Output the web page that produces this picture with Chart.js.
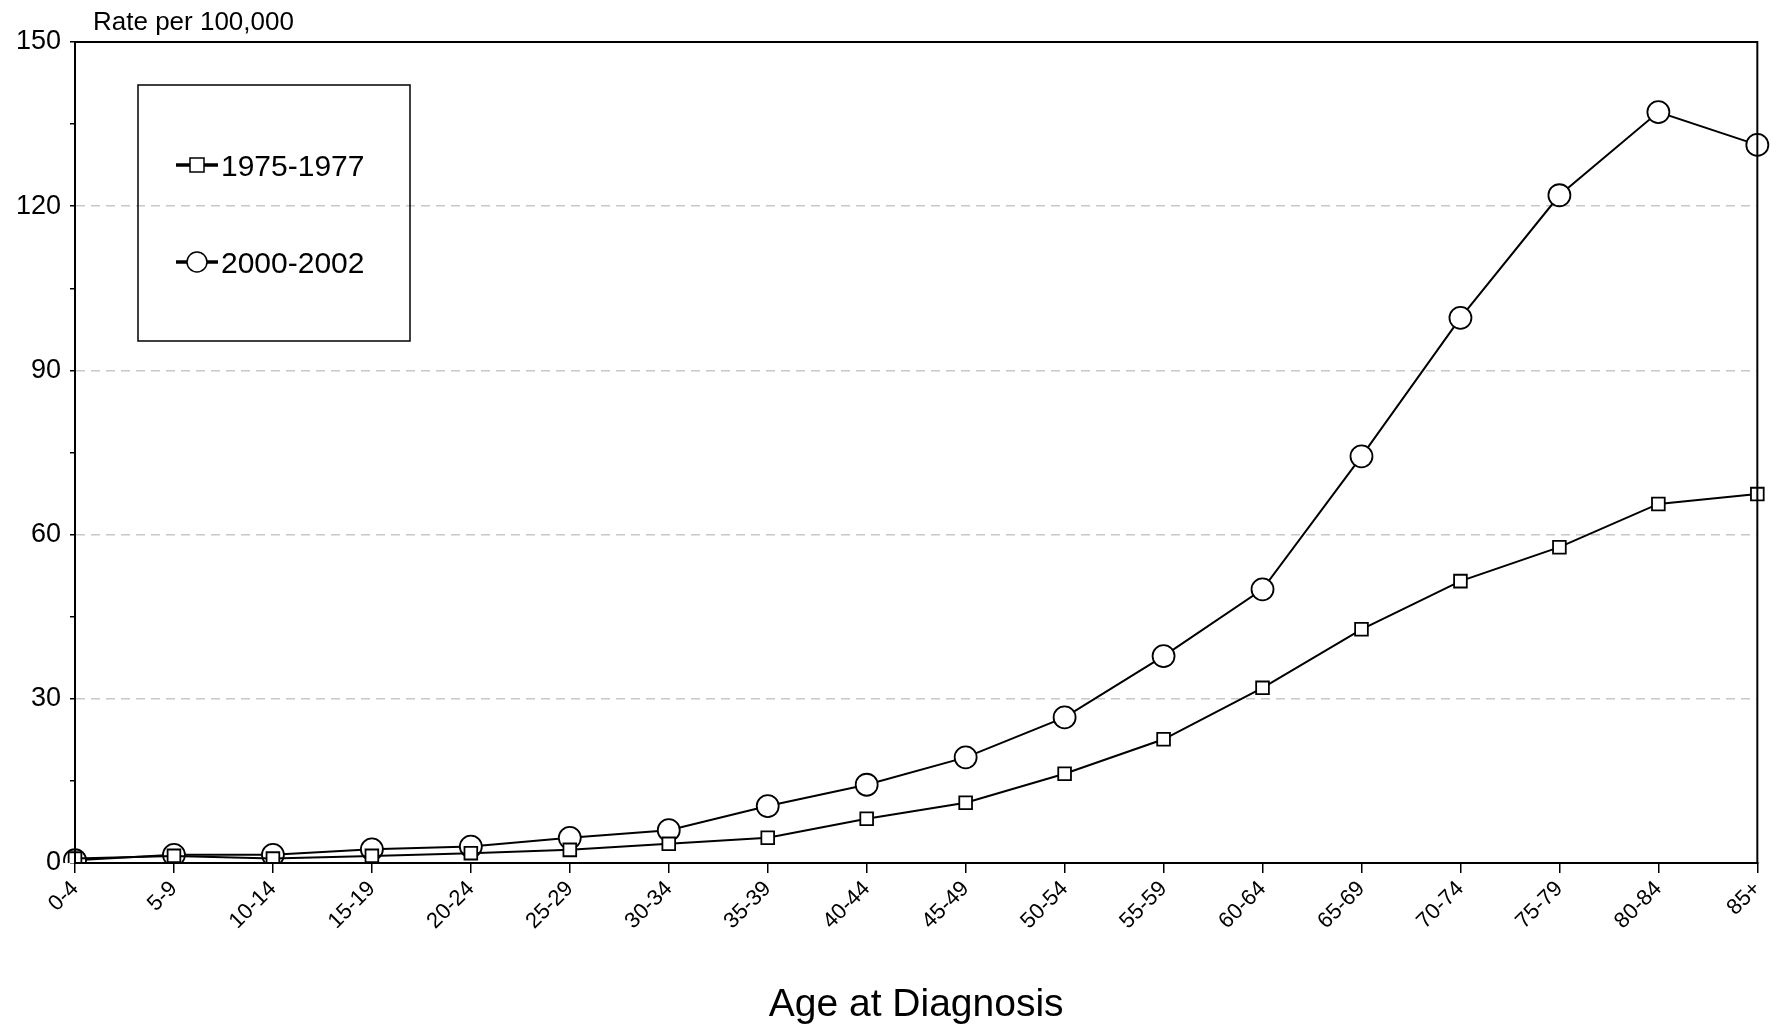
<!DOCTYPE html>
<html>
<head>
<meta charset="utf-8">
<script src="https://cdn.jsdelivr.net/npm/chart.js@4"></script>
<style>
  html, body { margin: 0; padding: 0; background: #fff; }
  #wrap { width: 1779px; height: 1033px; }
</style>
</head>
<body>
<div id="wrap"><canvas id="c"></canvas></div>
<script>
const ageGroups = ["0-4", "5-9", "10-14", "15-19", "20-24", "25-29", "30-34", "35-39", "40-44",
    "45-49", "50-54", "55-59", "60-64", "65-69", "70-74", "75-79", "80-84", "85+"];
const rate1975 = [0.8, 1.3, 0.8, 1.3, 1.8, 2.4, 3.5, 4.6, 8.1, 11, 16.3, 22.6, 32, 42.7, 51.5, 57.7, 65.6, 67.4];
const rate2000 = [0.5, 1.5, 1.5, 2.5, 3, 4.6, 6, 10.4, 14.3, 19.3, 26.6, 37.8, 50, 74.3, 99.6, 122, 137.2, 131.2];
const seriesNames = ["1975-1977", "2000-2002"];

const FONT = "'Liberation Sans', Arial, sans-serif";

const frame = {
    id: "frame",
    afterDraw(chart) {
        const ctx = chart.ctx;
        const a = chart.chartArea;
        ctx.save();
        ctx.strokeStyle = "#000";
        ctx.lineWidth = 2;
        ctx.strokeRect(a.left, a.top, a.right - a.left, a.bottom - a.top);

        // legend box
        ctx.lineWidth = 1.5;
        ctx.strokeRect(138, 85, 272, 256);
        const rows = [165, 262];
        chart.data.datasets.forEach((ds, i) => {
            const y = rows[i];
            ctx.lineWidth = 3.5;
            ctx.beginPath();
            ctx.moveTo(176, y);
            ctx.lineTo(218, y);
            ctx.stroke();
            ctx.lineWidth = 1.5;
            ctx.fillStyle = "#fff";
            ctx.beginPath();
            if (ds.pointStyle === "rect") {
                ctx.rect(190, y - 7, 14, 14);
            } else {
                ctx.arc(197, y, 10, 0, Math.PI * 2);
            }
            ctx.fill();
            ctx.stroke();
            ctx.fillStyle = "#000";
            ctx.font = "30px " + FONT;
            ctx.textBaseline = "middle";
            ctx.fillText(ds.label, 221, y + 3);
        });

        ctx.font = "26px " + FONT;
        ctx.textBaseline = "middle";
        ctx.fillText("Rate per 100,000", 93, 23);
        ctx.restore();
    }
};

new Chart(document.getElementById("c"), {
    type: "line",
    data: {
        labels: ageGroups,
        datasets: [{
            label: seriesNames[0],
            data: rate1975,
            borderColor: "#000",
            borderWidth: 2,
            pointStyle: "rect",
            pointRadius: 9,
            pointBackgroundColor: "#fff",
            pointBorderColor: "#000",
            pointBorderWidth: 1.8,
            tension: 0
        }, {
            label: seriesNames[1],
            data: rate2000,
            borderColor: "#000",
            borderWidth: 2,
            pointStyle: "circle",
            pointRadius: 11,
            pointBackgroundColor: "#fff",
            pointBorderColor: "#000",
            pointBorderWidth: 1.8,
            tension: 0
        }]
    },
    options: {
        responsive: true,
        maintainAspectRatio: false,
        animation: false,
        layout: { padding: { top: 42, right: 18, left: 0, bottom: 0 } },
        plugins: {
            legend: { display: false },
            tooltip: { enabled: false }
        },
        scales: {
            x: {
                offset: false,
                afterFit: s => { s.height = 170; },
                grid: { drawOnChartArea: false, color: "#000", tickLength: 10, lineWidth: 1.5 },
                border: { color: "#000", width: 2 },
                ticks: {
                    color: "#000",
                    font: { family: FONT, size: 22 },
                    maxRotation: 45,
                    minRotation: 45,
                    autoSkip: false
                },
                title: {
                    display: true,
                    text: "Age at Diagnosis",
                    color: "#000",
                    font: { family: FONT, size: 39 },
                    padding: { top: 30 }
                }
            },
            y: {
                min: 0,
                max: 150,
                afterFit: s => { s.width = 75; },
                border: { color: "#000", width: 2, dash: [9, 6] },
                grid: {
                    color: c => (c.tick.value % 30 === 0 && c.tick.value > 0 && c.tick.value < 150) ? "#c8c8c8" : "rgba(0,0,0,0)",
                    lineWidth: 1.5,
                    tickColor: "#000",
                    tickLength: c => (c.tick && c.tick.value % 30 === 0) ? 10 : 5,
                    tickBorderDash: []
                },
                ticks: {
                    stepSize: 15,
                    padding: 9,
                    color: "#000",
                    font: { family: FONT, size: 27 },
                    callback: v => v % 30 === 0 ? v : ""
                }
            }
        }
    },
    plugins: [frame]
});
</script>
</body>
</html>
